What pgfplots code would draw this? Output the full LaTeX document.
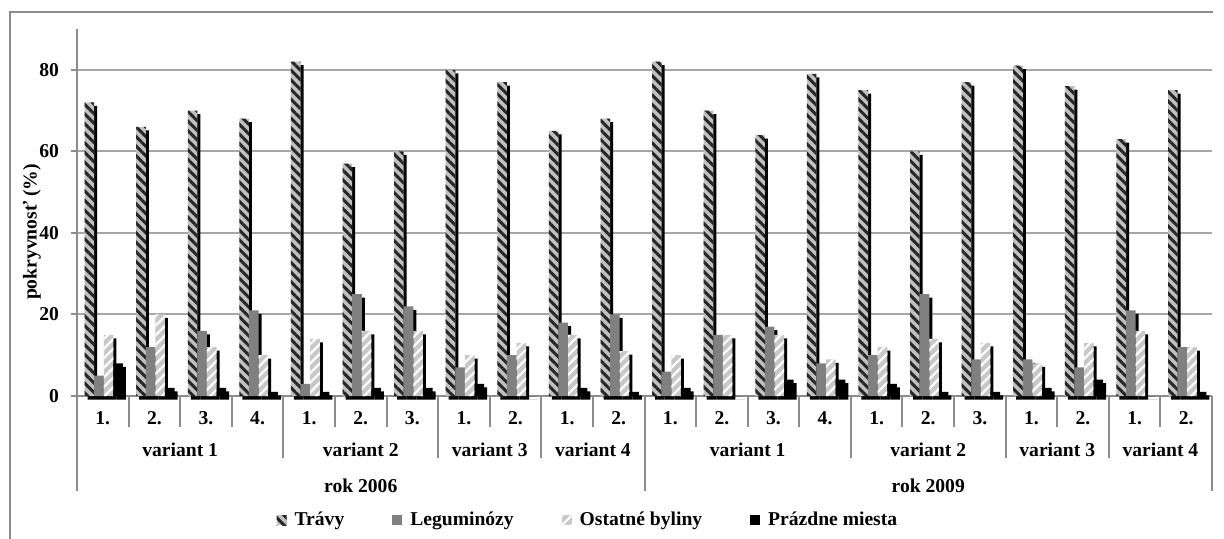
\documentclass[border=0pt]{standalone}
\usepackage{pgfplots}
\pgfplotsset{compat=1.18}
\usepackage{pgfplotstable}
\usetikzlibrary{patterns,patterns.meta}
\usepackage{fontspec}
\setmainfont{Liberation Serif}
\definecolor{travyfill}{HTML}{C0C0C0}
\definecolor{travystripe}{HTML}{262626}
\definecolor{legfill}{HTML}{808080}
\definecolor{ostfill}{HTML}{C8C8C8}
\definecolor{axgray}{HTML}{8C8C8C}
\definecolor{gridgray}{HTML}{A6A6A6}
\newcommand{\lbl}{\fontsize{9.8bp}{11bp}\selectfont\bfseries}

\pgfplotstableread{
x T L O P
0 72 5 15 8
1 66 12 20 2
2 70 16 12 2
3 68 21 10 1
4 82 3 14 1
5 57 25 16 2
6 60 22 16 2
7 80 7 10 3
8 77 10 13 0
9 65 18 15 2
10 68 20 11 1
11 82 6 10 2
12 70 15 15 0
13 64 17 15 4
14 79 8 9 4
15 75 10 12 3
16 60 25 14 1
17 77 9 13 1
18 81 9 8 2
19 76 7 13 4
20 63 21 16 0
21 75 12 12 1
}\data

\tikzset{
  travy/.style={fill=travyfill, draw=none, postaction={pattern={Lines[angle=-45,distance=3.4bp,line width=1.5bp]}, pattern color=travystripe}},
  legum/.style={fill=legfill, draw=none},
  ostat/.style={fill=ostfill, draw=none, postaction={pattern={Lines[angle=45,distance=3.4bp,line width=1.1bp]}, pattern color=white}},
  prazd/.style={fill=black, draw=none},
  shad/.style={fill=black, draw=none, xshift=1.5bp, yshift=-1.75bp},
  sep/.style={axgray, line width=1bp},
}

\begin{document}
\begin{tikzpicture}
\useasboundingbox (-38.5bp,-71.5bp) rectangle (573.5bp,198bp);
\begin{axis}[
  at={(0,0)}, anchor=south west,
  scale only axis, width=567.5bp, height=183.5bp,
  xmin=-0.5, xmax=21.5, ymin=0, ymax=90,
  clip=false,
  axis x line*=bottom, axis y line*=left,
  axis line style={color=axgray, line width=1bp},
  xtick=\empty,
  ytick={0,20,40,60,80},
  ymajorgrids, grid style={color=gridgray, line width=1bp},
  tick align=outside, major tick length=3bp,
  ytick style={color=axgray, line width=1bp},
  /pgf/number format/assume math mode=true,
  yticklabel style={font=\lbl, xshift=-2.5bp},
  bar width=4.8bp,
  legend columns=4,
  legend style={at={(rel axis cs:0.451,-0.338)}, anchor=center, draw=none, fill=none,
    font=\lbl, inner sep=0pt,
    /tikz/every even column/.append style={column sep=22bp},
    /tikz/every odd column/.append style={column sep=2bp}},
  legend image code/.code={\path[#1] (0bp,-2.5bp) rectangle (5bp,2.5bp);},
]
% shadows (3D side faces)
\addplot[ybar, bar shift=-6.7bp, shad, forget plot] table[x=x,y=T]{\data};
\addplot[ybar, bar shift=-1.9bp, shad, forget plot] table[x=x,y=L]{\data};
\addplot[ybar, bar shift=2.9bp, shad, forget plot] table[x=x,y=O]{\data};
\addplot[ybar, bar shift=7.7bp, shad, forget plot] table[x=x,y=P]{\data};
% front faces
\addplot[ybar, bar shift=-6.7bp, travy] table[x=x,y=T]{\data};
\addplot[ybar, bar shift=-1.9bp, legum] table[x=x,y=L]{\data};
\addplot[ybar, bar shift=2.9bp, ostat] table[x=x,y=O]{\data};
\addplot[ybar, bar shift=7.7bp, prazd] table[x=x,y=P]{\data};
\legend{Trávy, Leguminózy, Ostatné byliny, Prázdne miesta}

% category separators
\pgfplotsinvokeforeach{0.5,1.5,2.5,4.5,5.5,7.5,9.5,11.5,12.5,13.5,15.5,16.5,18.5,20.5}{
  \draw[sep] (axis cs:#1,0) -- ([yshift=-15.5bp]axis cs:#1,0);
}
\pgfplotsinvokeforeach{3.5,6.5,8.5,14.5,17.5,19.5}{
  \draw[sep] (axis cs:#1,0) -- ([yshift=-31bp]axis cs:#1,0);
}
\pgfplotsinvokeforeach{-0.5,10.5,21.5}{
  \draw[sep] (axis cs:#1,0) -- ([yshift=-47.5bp]axis cs:#1,0);
}
% level 1 labels
\node[font=\lbl] at ([yshift=-11bp]axis cs:0,0) {1.};
\node[font=\lbl] at ([yshift=-11bp]axis cs:1,0) {2.};
\node[font=\lbl] at ([yshift=-11bp]axis cs:2,0) {3.};
\node[font=\lbl] at ([yshift=-11bp]axis cs:3,0) {4.};
\node[font=\lbl] at ([yshift=-11bp]axis cs:4,0) {1.};
\node[font=\lbl] at ([yshift=-11bp]axis cs:5,0) {2.};
\node[font=\lbl] at ([yshift=-11bp]axis cs:6,0) {3.};
\node[font=\lbl] at ([yshift=-11bp]axis cs:7,0) {1.};
\node[font=\lbl] at ([yshift=-11bp]axis cs:8,0) {2.};
\node[font=\lbl] at ([yshift=-11bp]axis cs:9,0) {1.};
\node[font=\lbl] at ([yshift=-11bp]axis cs:10,0) {2.};
\node[font=\lbl] at ([yshift=-11bp]axis cs:11,0) {1.};
\node[font=\lbl] at ([yshift=-11bp]axis cs:12,0) {2.};
\node[font=\lbl] at ([yshift=-11bp]axis cs:13,0) {3.};
\node[font=\lbl] at ([yshift=-11bp]axis cs:14,0) {4.};
\node[font=\lbl] at ([yshift=-11bp]axis cs:15,0) {1.};
\node[font=\lbl] at ([yshift=-11bp]axis cs:16,0) {2.};
\node[font=\lbl] at ([yshift=-11bp]axis cs:17,0) {3.};
\node[font=\lbl] at ([yshift=-11bp]axis cs:18,0) {1.};
\node[font=\lbl] at ([yshift=-11bp]axis cs:19,0) {2.};
\node[font=\lbl] at ([yshift=-11bp]axis cs:20,0) {1.};
\node[font=\lbl] at ([yshift=-11bp]axis cs:21,0) {2.};
% level 2 labels
\node[font=\lbl] at ([yshift=-27bp]axis cs:1.5,0) {variant 1};
\node[font=\lbl] at ([yshift=-27bp]axis cs:5,0) {variant 2};
\node[font=\lbl] at ([yshift=-27bp]axis cs:7.5,0) {variant 3};
\node[font=\lbl] at ([yshift=-27bp]axis cs:9.5,0) {variant 4};
\node[font=\lbl] at ([yshift=-27bp]axis cs:12.5,0) {variant 1};
\node[font=\lbl] at ([yshift=-27bp]axis cs:16,0) {variant 2};
\node[font=\lbl] at ([yshift=-27bp]axis cs:18.5,0) {variant 3};
\node[font=\lbl] at ([yshift=-27bp]axis cs:20.5,0) {variant 4};
% level 3 labels
\node[font=\lbl] at ([yshift=-45bp]axis cs:5,0) {rok 2006};
\node[font=\lbl] at ([yshift=-45bp]axis cs:16,0) {rok 2009};
\end{axis}
\node[font=\lbl, rotate=90] at (-22.5bp,82bp) {pokryvnosť (\%)};
\draw[axgray, line width=1bp] (-33.5bp,-71.5bp) -- (-33.5bp,192bp) -- (568bp,192bp);
\end{tikzpicture}
\end{document}
